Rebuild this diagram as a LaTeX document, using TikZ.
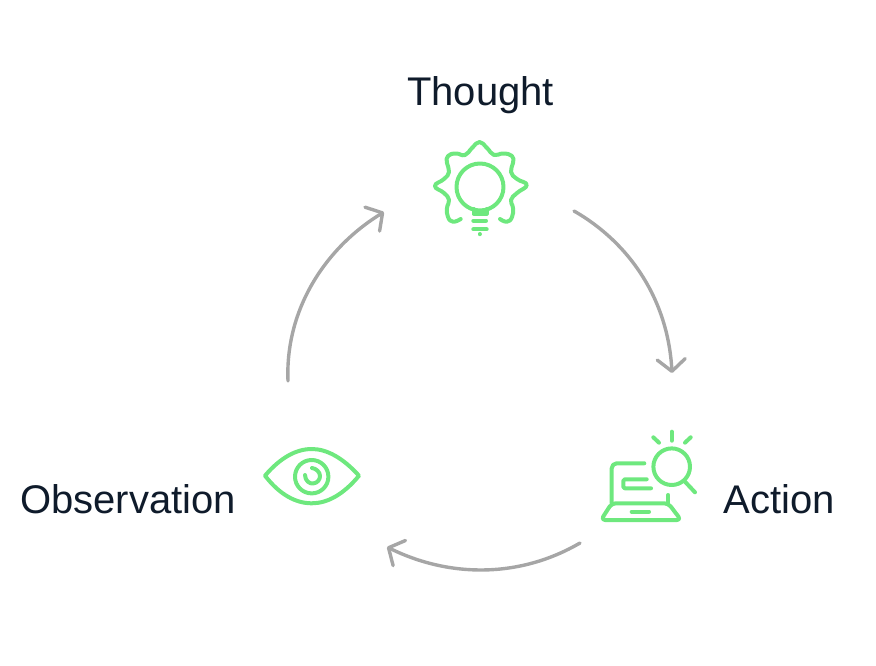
\documentclass[tikz,border=0pt]{standalone}
\usepackage{fontspec}
\setmainfont{Liberation Sans}
\usepackage{xcolor}
\usetikzlibrary{arrows.meta}
\definecolor{cyGreen}{RGB}{110, 232, 126}
\definecolor{cyGray}{RGB}{166, 166, 166}
\definecolor{cyInk}{RGB}{15, 27, 43}
\tikzset{
    title/.style={
        font=\fontsize{40}{46}\selectfont,
        text=cyInk,
        inner sep=0pt
    },
    icon/.style={
        draw=cyGreen,
        line width=4pt,
        line cap=round,
        line join=round
    },
    flow/.style={
        -{Straight Barb[length=12pt,width=28pt,round]},
        line width=3.4pt,
        line cap=round,
        color=cyGray
    }
}
\begin{document}
\begin{tikzpicture}[x=1pt,y=-1pt]
  \useasboundingbox (0,0) rectangle (876,666);

  % Labels
  \node[title] (thought) at (480.5,95.5) {Thought};
  \node[title] (action) at (779.5,499) {Action};
  \node[title] (observation) at (128,499) {Observation};

  % Connector ends
  \coordinate (thoughtOut) at (574,211);
  \coordinate (actionIn) at (672,373);
  \coordinate (actionOut) at (580,543);
  \coordinate (observationIn) at (387,547);
  \coordinate (observationOut) at (288,381);
  \coordinate (thoughtIn) at (384,212);

  % Cycle
  \draw[flow] (thoughtOut) .. controls (630,243) and (668,300) .. (actionIn);
  \draw[flow] (actionOut) .. controls (520,578) and (450,578) .. (observationIn);
  \draw[flow] (observationOut) .. controls (285,310) and (325,248) .. (thoughtIn);

  % Bulb
  \draw[icon] plot[smooth,tension=0.85] coordinates {(460.7,219) (453,221.7) (448,217) (447,208) (449,200) (444,193) (435,186) (444,179) (449,172) (447,163) (448,156) (456,153.5) (465,155) (472,148) (479.5,142) (487,148) (494,155) (503,153.5) (512,156) (513,163) (511,172) (517,179) (526.7,185) (517,193) (511,200) (513,208) (512,217) (507,221.7) (500,219)};
  \draw[icon] (480,187) circle (23.5);
  \draw[icon] (473.5,209) -- (473.5,213.5) -- (486.5,213.5) -- (486.5,209);
  \draw[icon] (473.3,220.7) -- (486,220.7);
  \draw[icon] (473.3,229.3) -- (486.7,229.3);
  \draw[icon] (479.5,234) -- (479.5,234.2);

  % Laptop
  \draw[icon,rounded corners=5pt] (644.3,463.3) -- (611.7,463.3) -- (611.7,503.3);
  \draw[icon,rounded corners=4pt] (611.7,503.3) -- (668.3,503.3) -- (681,520) -- (601,520) -- cycle;
  \draw[icon] (668.3,495) -- (668.3,503.3);
  \draw[icon,rounded corners=1.5pt] (646.7,479.3) -- (623.3,479.3) -- (623.3,488.3) -- (651,488.3);
  \draw[icon] (631.7,511.7) -- (649,511.7);
  \draw[icon] (671.7,466.7) circle (18.3);
  \draw[icon] (685,481.7) -- (695,492.3);
  \draw[icon] (671.7,431.7) -- (671.7,440.7);
  \draw[icon] (653.3,437.3) -- (659,442.7);
  \draw[icon] (690.7,437.3) -- (685,442.7);

  % Eye
  \draw[icon] (265,475.7) .. controls (280,458) and (296,449) .. (311.7,449) .. controls (327,449) and (343,458) .. (359,475.7) .. controls (343,495) and (327,503.3) .. (311.7,503.3) .. controls (296,503.3) and (280,495) .. cycle;
  \draw[icon] (311.7,476.7) circle (16.7);
  \draw[icon] (305,475) .. controls (305,481) and (310,484) .. (313,483.5) .. controls (318,483) and (320,479) .. (320,476) .. controls (320,472) and (316,468.5) .. (312,468);
\end{tikzpicture}
\end{document}
